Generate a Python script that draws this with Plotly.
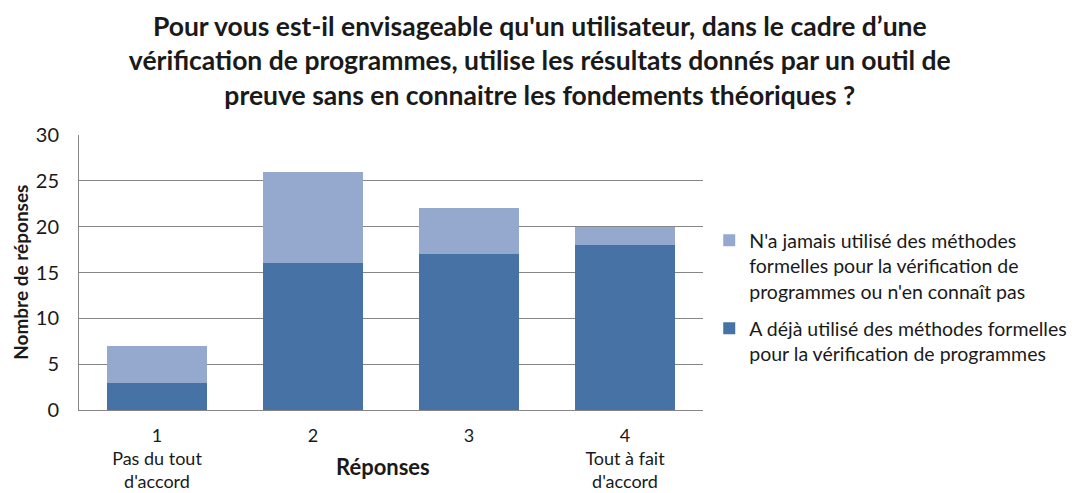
import plotly.graph_objects as go

# Data
categories = ["1<br>Pas du tout<br>d'accord", "2", "3", "4<br>Tout à fait<br>d'accord"]
deja_utilise = [3, 16, 17, 18]
jamais_utilise = [4, 10, 5, 2]

name_deja = "A déjà utilisé des méthodes formelles<br>pour la vérification de programmes"
name_jamais = "N'a jamais utilisé des méthodes<br>formelles pour la vérification de<br>programmes ou n'en connaît pas"

title_text = ("Pour vous est-il envisageable qu'un utilisateur, dans le cadre d’une<br>"
              "vérification de programmes, utilise les résultats donnés par un outil de<br>"
              "preuve sans en connaitre les fondements théoriques ?")

FONT = "Lato, 'Open Sans', sans-serif"
TXT = "#1a1a1a"

fig = go.Figure()
fig.add_trace(go.Bar(x=categories, y=deja_utilise, name=name_deja,
                     marker=dict(color="#4672A6", line=dict(width=0)),
                     legendgroup="a", legendrank=2))
fig.add_trace(go.Bar(x=categories, y=jamais_utilise, name=name_jamais,
                     marker=dict(color="#95A9CF", line=dict(width=0)),
                     legendgroup="b", legendrank=1))

# page body adds 8px on the left/top, so the figure is drawn 8px smaller
fig.update_layout(
    width=1070, height=485,
    barmode="stack", bargap=0.36,
    paper_bgcolor="white", plot_bgcolor="white",
    font=dict(family=FONT, size=20, color=TXT),
    margin=dict(l=71, r=375, t=127, b=83, autoexpand=False),
    title=dict(text="<b>" + title_text + "</b>", x=0.497, xanchor="center",
               y=0.943, yanchor="middle",
               font=dict(family=FONT, size=26.5, color=TXT)),
    legend=dict(x=1.010, y=0.687, xanchor="left", yanchor="top",
                traceorder="grouped", tracegroupgap=9,
                valign="top",
                font=dict(family=FONT, size=19.5, color=TXT),
                itemwidth=30, bgcolor="rgba(0,0,0,0)"),
    xaxis=dict(showline=True, linecolor="#868686", linewidth=1,
               ticks="", ticklabelstandoff=9, tickfont=dict(size=18),
               automargin=False),
    yaxis=dict(range=[0, 30], dtick=5, showgrid=True, gridcolor="#868686",
               gridwidth=1, showline=True, linecolor="#868686", linewidth=1,
               zeroline=False, ticks="", ticklabelstandoff=15,
               tickfont=dict(size=20), automargin=False),
)

fig.add_annotation(text="<b>Réponses</b>", xref="paper", yref="paper",
                   x=0.487, y=-0.207, xanchor="center", yanchor="middle",
                   showarrow=False, font=dict(family=FONT, size=22, color=TXT))
fig.add_annotation(text="<b>Nombre de réponses</b>", xref="paper", yref="paper",
                   x=-0.094, y=0.5, xanchor="center", yanchor="middle",
                   textangle=-90, showarrow=False,
                   font=dict(family=FONT, size=19, color=TXT))

fig.write_html("out.html")
